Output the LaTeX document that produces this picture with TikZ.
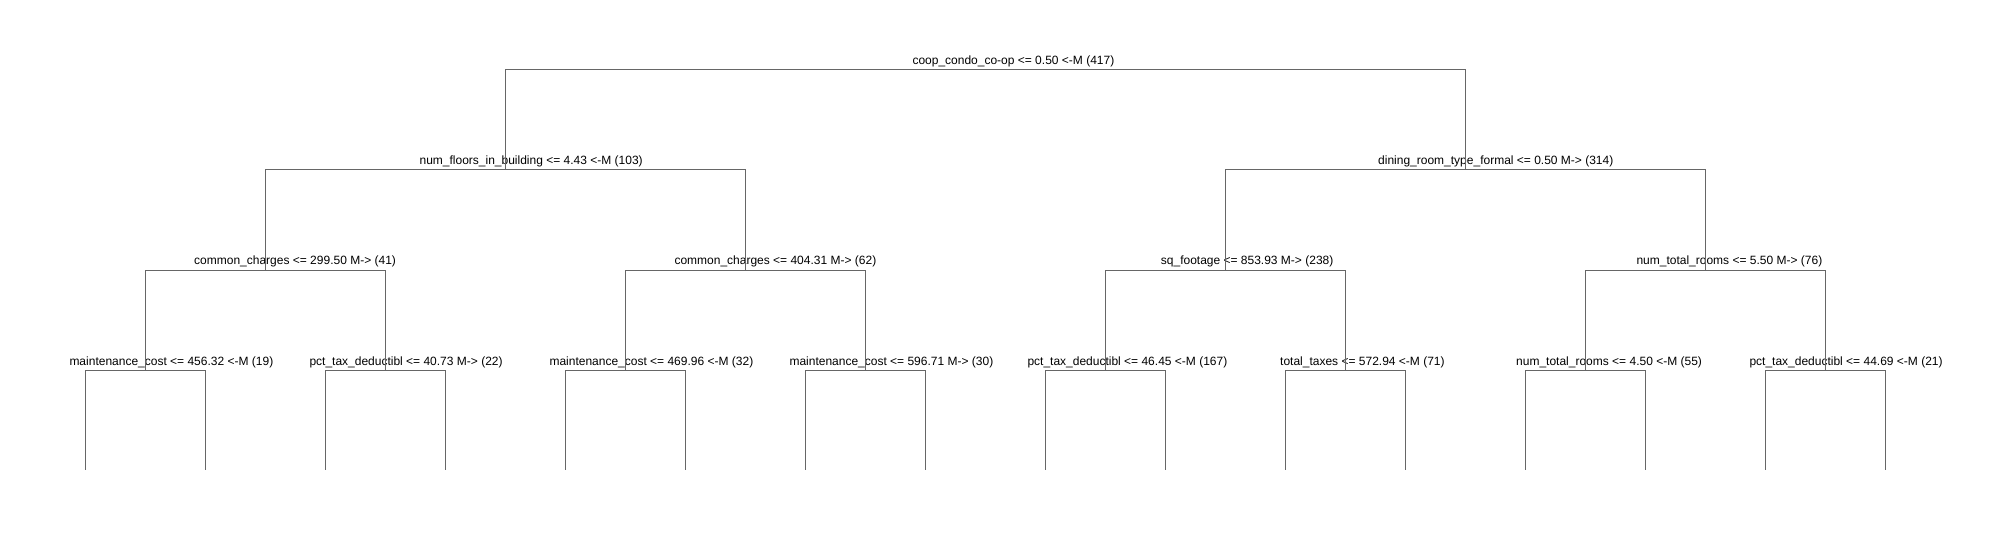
\documentclass[tikz,border=0pt]{standalone}
\usepackage{fontspec}
\setmainfont{Liberation Sans}
\definecolor{edgegray}{RGB}{102,102,102}
\begin{document}
\begin{tikzpicture}[x=1pt,y=-1pt,
  lbl/.style={anchor=base west,inner sep=0pt,font=\fontsize{12}{14}\selectfont,text=black},
  edge/.style={draw=edgegray,line width=1pt}]
\useasboundingbox (0,0) rectangle (2011,540);
% tree points
\coordinate (r) at (985,70);
\coordinate (a) at (505,170);
\coordinate (b) at (1465,170);
\coordinate (aa) at (265,270);
\coordinate (ab) at (745,270);
\coordinate (ba) at (1225,270);
\coordinate (bb) at (1705,270);
\coordinate (aaa) at (145,370);
\coordinate (aab) at (385,370);
\coordinate (aba) at (625,370);
\coordinate (abb) at (865,370);
\coordinate (baa) at (1105,370);
\coordinate (bab) at (1345,370);
\coordinate (bba) at (1585,370);
\coordinate (bbb) at (1825,370);
\foreach \i in {0,...,15} {\coordinate (leaf\i) at (85+120*\i,470);}
% labels
\node[lbl] (lr) at (912.3,65) {coop\_condo\_co-op <= 0.50 <-M (417)};
\node[lbl] (la) at (419.4,165) {num\_floors\_in\_building <= 4.43 <-M (103)};
\node[lbl] (lb) at (1378,165) {dining\_room\_type\_formal <= 0.50 M-> (314)};
\node[lbl] (laa) at (194,265) {common\_charges <= 299.50 M-> (41)};
\node[lbl] (lab) at (674.3,265) {common\_charges <= 404.31 M-> (62)};
\node[lbl] (lba) at (1160.7,265) {sq\_footage <= 853.93 M-> (238)};
\node[lbl] (lbb) at (1636.3,265) {num\_total\_rooms <= 5.50 M-> (76)};
\node[lbl] (laaa) at (69.3,365) {maintenance\_cost <= 456.32 <-M (19)};
\node[lbl] (laab) at (309.3,365) {pct\_tax\_deductibl <= 40.73 M-> (22)};
\node[lbl] (laba) at (549.3,365) {maintenance\_cost <= 469.96 <-M (32)};
\node[lbl] (labb) at (789.3,365) {maintenance\_cost <= 596.71 M-> (30)};
\node[lbl] (lbaa) at (1027.3,365) {pct\_tax\_deductibl <= 46.45 <-M (167)};
\node[lbl] (lbab) at (1280,365) {total\_taxes <= 572.94 <-M (71)};
\node[lbl] (lbba) at (1516,365) {num\_total\_rooms <= 4.50 <-M (55)};
\node[lbl] (lbbb) at (1749.3,365) {pct\_tax\_deductibl <= 44.69 <-M (21)};
% edges
\foreach \p/\c in {r/a,r/b,a/aa,a/ab,b/ba,b/bb,aa/aaa,aa/aab,ab/aba,ab/abb,ba/baa,ba/bab,bb/bba,bb/bbb}
  {\draw[edge] (\p) -| (\c);}
\foreach \p [count=\k from 0] in {aaa,aab,aba,abb,baa,bab,bba,bbb} {
  \pgfmathtruncatemacro{\la}{2*\k}
  \pgfmathtruncatemacro{\lb}{2*\k+1}
  \draw[edge] (\p) -| (leaf\la);
  \draw[edge] (\p) -| (leaf\lb);
}
\end{tikzpicture}
\end{document}
